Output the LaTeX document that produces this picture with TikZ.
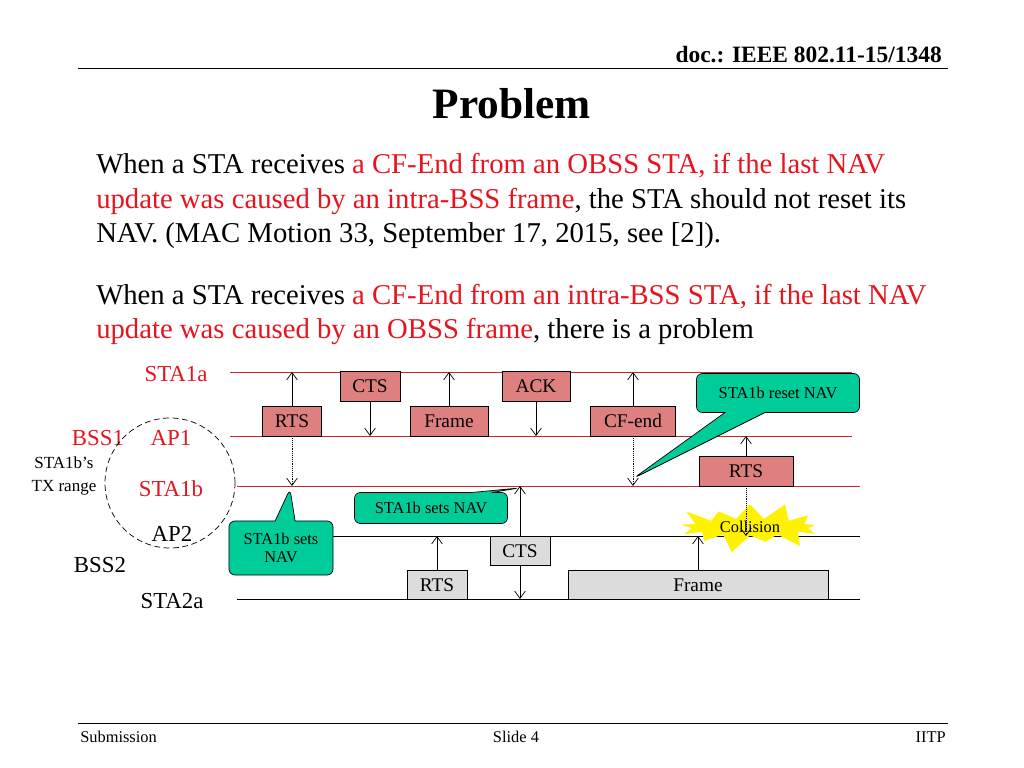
\documentclass[tikz,border=0pt]{standalone}
\usepackage{fontspec}
\setmainfont{Liberation Serif}
\usetikzlibrary{shapes.callouts,shapes.symbols,arrows.meta,positioning}
\definecolor{txred}{RGB}{230,20,30}
\definecolor{linered}{RGB}{200,40,40}
\definecolor{boxred}{RGB}{222,128,128}
\definecolor{boxgray}{RGB}{220,220,220}
\definecolor{notegreen}{RGB}{0,204,153}
\tikzset{
  redbox/.style={draw,fill=boxred,minimum height=0.9cm,inner sep=0pt,font=\fontsize{16.5}{16.5}\selectfont},
  graybox/.style={draw,fill=boxgray,minimum height=0.87cm,inner sep=0pt,font=\fontsize{16.5}{16.5}\selectfont},
  note/.style={rectangle callout,draw,fill=notegreen,rounded corners=5pt,align=center,font=\fontsize{14}{16}\selectfont,inner sep=2pt,callout pointer width=0.6cm},
  lbl/.style={font=\fontsize{19.5}{19.5}\selectfont},
  body/.style={anchor=west,font=\fontsize{24.5}{24.5}\selectfont}
}
\begin{document}
\begin{tikzpicture}[x=0.03cm,y=-0.03cm,>={Straight Barb[length=2.2mm,width=3.2mm]},semithick]
\useasboundingbox (0,0) rectangle (1024,768);
% header and footer
\node[anchor=east,font=\bfseries\fontsize{20}{20}\selectfont] (doc) at (946,55) {doc.: IEEE 802.11-15/1348};
\draw (78,68) -- (948,68);
\node[font=\bfseries\fontsize{37}{37}\selectfont] (title) at (512,104) {Problem};
\node[body] (p1) at (92,166) {When a STA receives \textcolor{txred}{a CF-End from an OBSS STA, if the last NAV}};
\node[body] (p2) at (92,201) {\textcolor{txred}{update was caused by an intra-BSS frame}, the STA should not reset its};
\node[body] (p3) at (92,236) {NAV. (MAC Motion 33, September 17, 2015, see [2]).};
\node[body] (q1) at (92,297) {When a STA receives \textcolor{txred}{a CF-End from an intra-BSS STA, if the last NAV}};
\node[body] (q2) at (92,331) {\textcolor{txred}{update was caused by an OBSS frame}, there is a problem};
\draw (78,723) -- (948,723);
\node[anchor=west,font=\fontsize{14}{14}\selectfont] (sub) at (76,737) {Submission};
\node[font=\fontsize{14}{14}\selectfont] (slide) at (516,737) {Slide 4};
\node[anchor=east,font=\fontsize{14}{14}\selectfont] (iitp) at (950,737) {IITP};
% time lines
\coordinate (l1) at (0,372); \coordinate (l2) at (0,436); \coordinate (l3) at (0,486);
\coordinate (l4) at (0,536); \coordinate (l5) at (0,599);
\draw[linered] (230,372) -- (852,372);
\draw[linered] (230,436) -- (852,436);
\draw[linered] (237,486) -- (860,486);
\draw (237,536) -- (860,536);
\draw (237,599) -- (860,599);
\node[lbl,text=txred] (sta1a) at (176,374) {STA1a};
\node[lbl,text=txred] (bss1) at (98,438) {BSS1};
\node[lbl,text=txred] (ap1) at (171,438) {AP1};
\node[lbl,text=txred] (sta1b) at (171,489) {STA1b};
\node[lbl] (ap2) at (172,534) {AP2};
\node[lbl] (bss2) at (100,565) {BSS2};
\node[lbl] (sta2a) at (172,601) {STA2a};
\draw[dash pattern=on 5pt off 3pt] (170,483) circle [radius=1.95cm];
\node[align=center,font=\fontsize{14.5}{19}\selectfont] (range) at (64,476) {STA1b’s\\TX range};
% BSS1 frames
\node[redbox,minimum width=1.77cm] (rts1) at (292,421) {RTS};
\node[redbox,minimum width=1.8cm] (cts1) at (370,386) {CTS};
\node[redbox,minimum width=2.34cm] (frm1) at (449,421) {Frame};
\node[redbox,minimum width=2.04cm] (ack1) at (536,386) {ACK};
\node[redbox,minimum width=2.55cm] (cfend) at (633,421) {CF-end};
\node[redbox,minimum width=2.82cm] (rts2) at (746,471) {RTS};
\draw[->] (rts1.north) -- (rts1.north |- l1);
\draw[->] (cts1.south) -- (cts1.south |- l2);
\draw[->] (frm1.north) -- (frm1.north |- l1);
\draw[->] (ack1.south) -- (ack1.south |- l2);
\draw[->] (cfend.north) -- (cfend.north |- l1);
\draw[->] (rts2.north) -- (rts2.north |- l2);
\draw[->,densely dotted] (rts1.south) -- (rts1.south |- l3);
\draw[->,densely dotted] (cfend.south) -- (cfend.south |- l3);
% collision
\node[starburst,fill=yellow,draw=none,minimum width=4.7cm,minimum height=1.7cm,starburst points=13,starburst point height=0.6cm] (burst) at (750,527) {};
\node[font=\fontsize{14}{14}\selectfont] (coll) at (750,527) {Collision};
\draw[->,densely dotted] (rts2.south) -- (rts2.south |- l4);
% BSS2 frames
\node[graybox,minimum width=1.8cm] (cts2) at (520,551) {CTS};
\node[graybox,minimum width=1.8cm] (rts3) at (437,585) {RTS};
\node[graybox,minimum width=7.8cm] (frm2) at (698,585) {Frame};
\draw[->] (rts3.north) -- (rts3.north |- l4);
\draw[->] (cts2.north) -- (cts2.north |- l3);
\draw[->] (cts2.south) -- (cts2.south |- l5);
\draw[->] (frm2.north) -- (frm2.north |- l4);
% notes
\coordinate (tip1) at (290,489); \coordinate (tip2) at (519,488); \coordinate (tip3) at (634,478);
\node[note,minimum width=3.12cm,minimum height=1.62cm,callout absolute pointer={(tip1)}] (nav1) at (281,548) {STA1b sets\\NAV};
\node[note,minimum width=4.59cm,minimum height=0.93cm,callout absolute pointer={(tip2)}] (nav2) at (431,508) {STA1b sets NAV};
\node[note,minimum width=4.89cm,minimum height=1.17cm,callout absolute pointer={(tip3)},callout pointer width=1.2cm] (nav3) at (778,393) {STA1b reset NAV};
\end{tikzpicture}
\end{document}
